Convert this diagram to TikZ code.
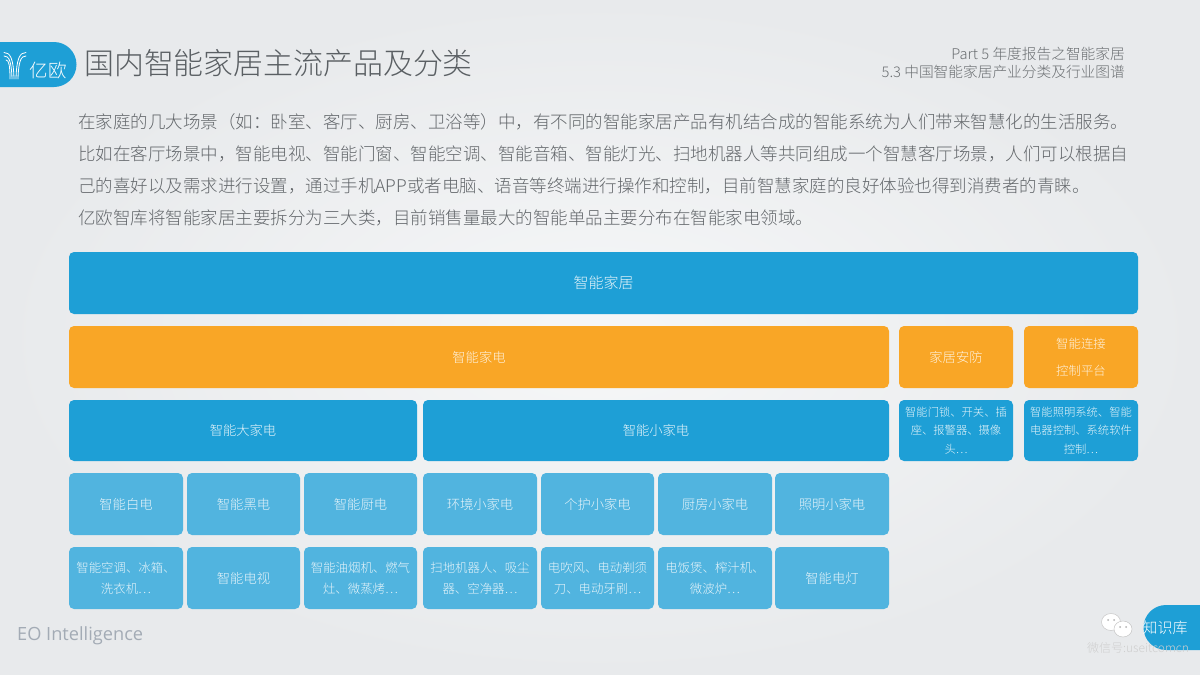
\documentclass[tikz,border=0pt]{standalone}
\usepackage{fontspec}
\setmainfont{Noto Sans CJK SC Light}
\newfontfamily\latinf{Open Sans}
\usetikzlibrary{shapes.geometric}
\definecolor{bblue}{HTML}{1E9FD6}
\definecolor{lblue}{HTML}{51B4DF}
\definecolor{oran}{HTML}{F9A626}
\definecolor{bgedge}{HTML}{E8EAEC}
\definecolor{bgmid}{HTML}{F6F7F8}
\definecolor{titlec}{HTML}{5A5F63}
\definecolor{parac}{HTML}{63676B}
\definecolor{boxtxt}{HTML}{E6F4FA}
\definecolor{eoc}{HTML}{A3ABB5}
\tikzset{
  x=1pt,y=-1pt,
  bx/.style={rounded corners=5pt,inner sep=0pt,outer sep=0pt,align=center,text=boxtxt,font=\fontsize{13.3}{22}\selectfont},
  bluebox/.style={bx,fill=bblue},
  orangebox/.style={bx,fill=oran,text=white!85!oran},
  lightbox/.style={bx,fill=lblue},
  small/.style={font=\fontsize{11.3}{18.5}\selectfont},
  midsize/.style={font=\fontsize{12.4}{21}\selectfont},
  para/.style={anchor=west,inner sep=0pt,text=parac,font=\fontsize{17.5}{20}\selectfont},
  rhead/.style={anchor=east,inner sep=0pt,text=titlec!90,font=\fontsize{14.7}{16}\selectfont},
  wc/.style={fill=white,draw=gray!45,line width=0.5pt}
}
\newcommand{\bxn}[7]{\node[#1,minimum width=#4pt-#2pt,minimum height=#5pt-#3pt] (#6) at ({(#2+#4)/2},{(#3+#5)/2}) {#7};}
\begin{document}
\begin{tikzpicture}
\useasboundingbox (0,0) rectangle (1200,675);
\shade[inner color=bgmid,outer color=bgedge] (0,0) rectangle (1200,675);
% header tab
\path[fill=bblue] (0,42) -- (54,42) arc[start angle=90,end angle=-90,x radius=22.5,y radius=-22.5] -- (0,87) -- cycle;
\begin{scope}[draw=white,line width=0.8pt,line cap=round,fill=none]
\draw (4,52.5) .. controls (10,52.5) and (13.5,58) .. (14,79);
\draw (4,56) .. controls (9,56) and (11.5,61) .. (12,79);
\draw (6,60) .. controls (9,60) and (10,66) .. (10,79);
\draw (26,52.5) .. controls (20,52.5) and (16.5,58) .. (16,79);
\draw (26,56) .. controls (21,56) and (18.5,61) .. (18,79);
\end{scope}
\node[inner sep=0pt,text=white,font=\fontsize{18.5}{20}\selectfont] (logo) at (48,71) {亿欧};
\node[anchor=west,inner sep=0pt,text=titlec,font=\fontsize{29.9}{32}\selectfont] (title) at (84,63) {国内智能家居主流产品及分类};
\node[rhead] (rh1) at (1125,54) {Part 5 年度报告之智能家居};
\node[rhead] (rh2) at (1125,72) {5.3 中国智能家居产业分类及行业图谱};
% paragraph
\node[para] (p1) at (78,122) {在家庭的几大场景（如：卧室、客厅、厨房、卫浴等）中，有不同的智能家居产品有机结合成的智能系统为人们带来智慧化的生活服务。};
\node[para] (p2) at (78,154) {比如在客厅场景中，智能电视、智能门窗、智能空调、智能音箱、智能灯光、扫地机器人等共同组成一个智慧客厅场景，人们可以根据自};
\node[para] (p3) at (78,186) {己的喜好以及需求进行设置，通过手机APP或者电脑、语音等终端进行操作和控制，目前智慧家庭的良好体验也得到消费者的青睐。};
\node[para] (p4) at (78,218) {亿欧智库将智能家居主要拆分为三大类，目前销售量最大的智能单品主要分布在智能家电领域。};
% rows
\bxn{bluebox,font=\fontsize{15}{22}\selectfont}{69}{252}{1138}{314}{top}{智能家居}
\bxn{orangebox}{69}{326}{889}{388}{appl}{智能家电}
\bxn{orangebox}{899}{326}{1013}{388}{sec}{家居安防}
\bxn{orangebox,font=\fontsize{12.4}{27}\selectfont}{1024}{326}{1138}{388}{conn}{智能连接\\控制平台}
\bxn{bluebox}{69}{400}{417}{461}{big}{智能大家电}
\bxn{bluebox}{423}{400}{889}{461}{sml}{智能小家电}
\bxn{bluebox,small}{899}{400}{1013}{461}{secd}{智能门锁、开关、插\\座、报警器、摄像\\头⋯}
\bxn{bluebox,small}{1024}{400}{1138}{461}{connd}{智能照明系统、智能\\电器控制、系统软件\\控制⋯}
\bxn{lightbox}{69}{473}{183}{535}{a1}{智能白电}
\bxn{lightbox}{187}{473}{300}{535}{a2}{智能黑电}
\bxn{lightbox}{304}{473}{417}{535}{a3}{智能厨电}
\bxn{lightbox}{423}{473}{537}{535}{a4}{环境小家电}
\bxn{lightbox}{541}{473}{654}{535}{a5}{个护小家电}
\bxn{lightbox}{658}{473}{772}{535}{a6}{厨房小家电}
\bxn{lightbox}{775}{473}{889}{535}{a7}{照明小家电}
\bxn{lightbox,midsize}{69}{547}{183}{609}{b1}{智能空调、冰箱、\\洗衣机⋯}
\bxn{lightbox}{187}{547}{300}{609}{b2}{智能电视}
\bxn{lightbox,midsize}{304}{547}{417}{609}{b3}{智能油烟机、燃气\\灶、微蒸烤⋯}
\bxn{lightbox,midsize}{423}{547}{537}{609}{b4}{扫地机器人、吸尘\\器、空净器⋯}
\bxn{lightbox,midsize}{541}{547}{654}{609}{b5}{电吹风、电动剃须\\刀、电动牙刷⋯}
\bxn{lightbox,midsize}{658}{547}{772}{609}{b6}{电饭煲、榨汁机、\\微波炉⋯}
\bxn{lightbox}{775}{547}{889}{609}{b7}{智能电灯}
% footer
\node[anchor=west,inner sep=0pt,text=eoc,font=\latinf\fontsize{18.2}{20}\selectfont] (eo) at (17,636) {EO Intelligence};
\path[fill=bblue] (1200,605) -- (1166,605) arc[start angle=90,end angle=270,x radius=22.5,y radius=-22.5] -- (1200,650) -- cycle;
\fill[wc] (1111,622) ellipse[x radius=9.5,y radius=8.5];
\fill[wc] (1123,629) ellipse[x radius=9,y radius=8];
\fill[gray!60] (1108,620) circle[radius=1] (1114,620) circle[radius=1] (1120,627) circle[radius=1] (1126,627) circle[radius=1];
\node[inner sep=0pt,text=white,font=\fontsize{15}{16}\selectfont] (zsk) at (1165,628) {知识库};
\node[inner sep=0pt,text=white!62!gray,font=\fontsize{12}{14}\selectfont] (wx) at (1138,648) {微信号:useitcomcn};
\end{tikzpicture}
\end{document}
